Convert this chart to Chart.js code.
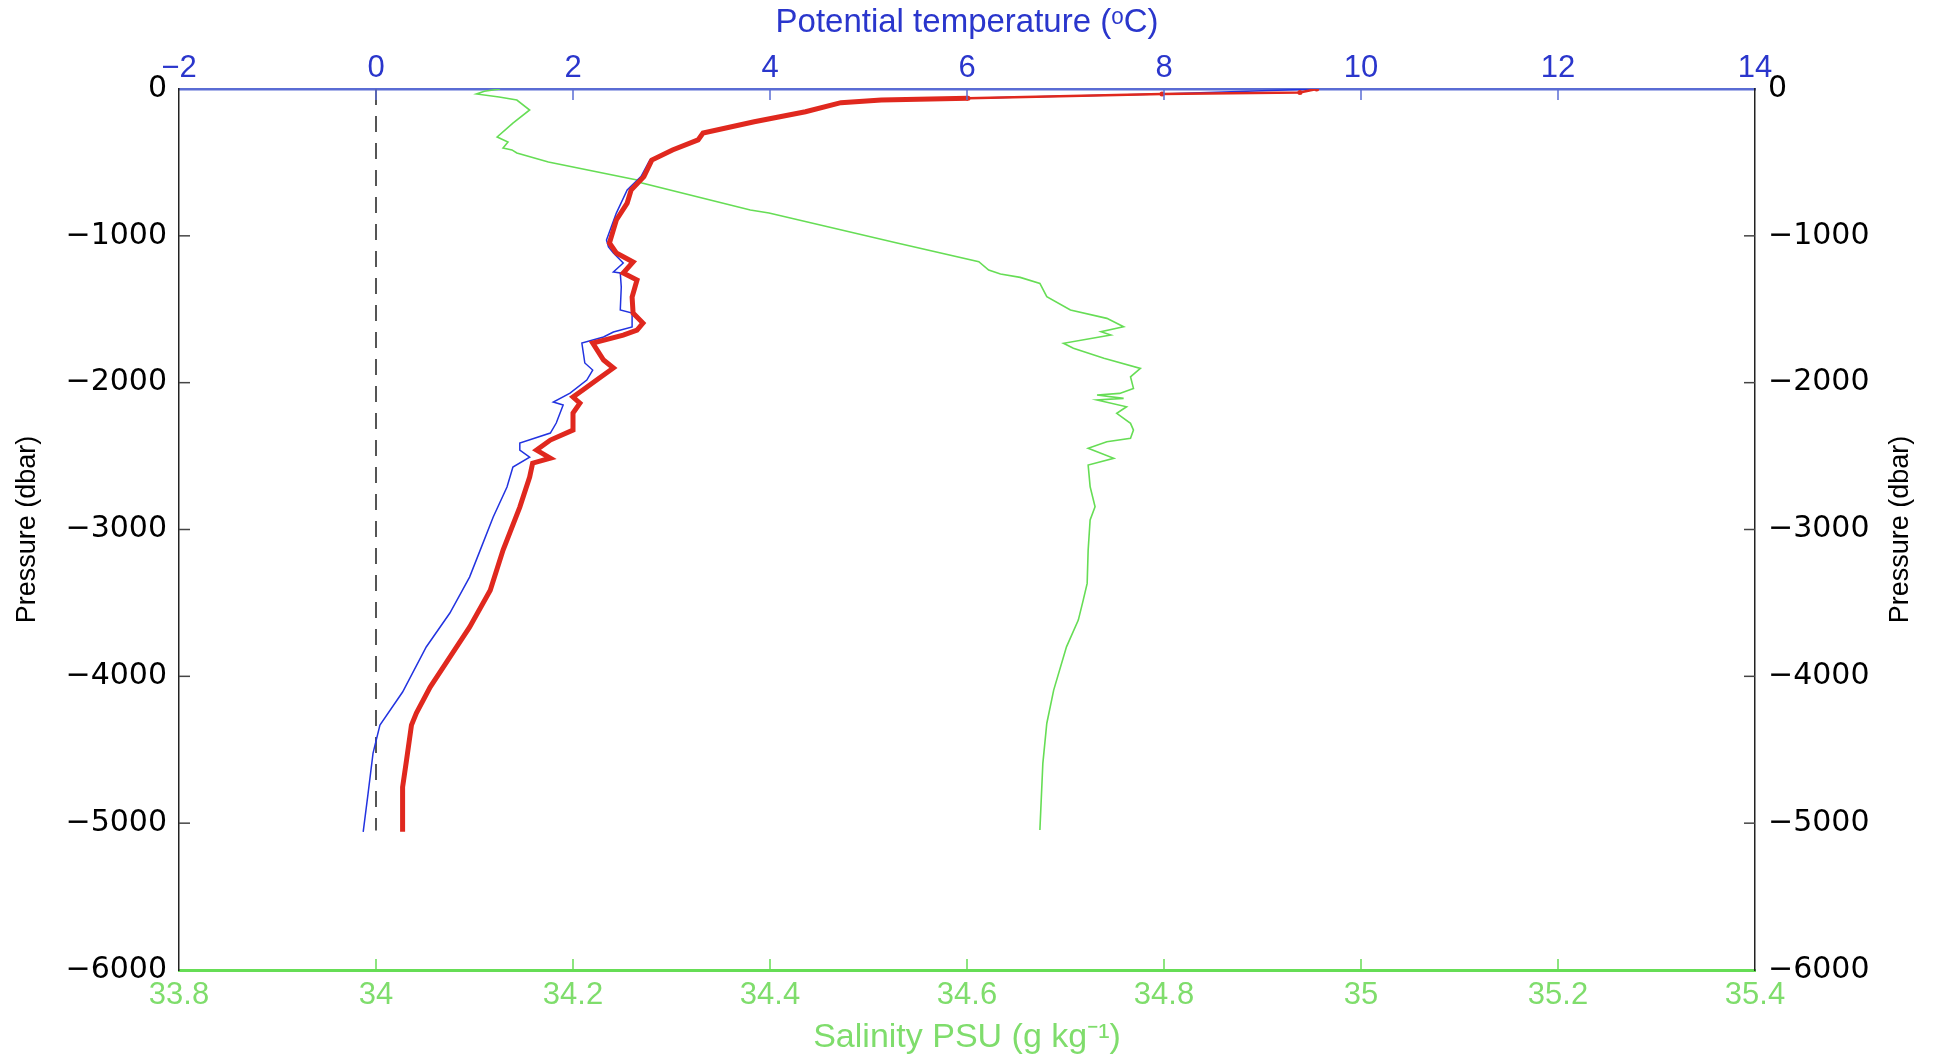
<!DOCTYPE html>
<html>
<head>
<meta charset="utf-8">
<script src="https://cdn.jsdelivr.net/npm/chart.js@4.4.0/dist/chart.umd.min.js"></script>
<style>
  html, body { margin: 0; padding: 0; background: #fff; }
  #wrap { width: 1937px; height: 1056px; position: relative; }
</style>
</head>
<body>
<div id="wrap"><canvas id="perfil"></canvas></div>
<script>
// perfil CTD: presion (dbar), temperatura (C), salinidad (PSU)
const redP = [0, -23, -34, -63, -75, -93, -155, -223, -300, -347, -415, -484, -597, -688, -777, -892, -1049, -1117, -1178, -1253, -1301, -1417, -1526, -1594, -1642, -1676, -1730, -1846, -1900, -1982, -2050, -2098, -2139, -2207, -2323, -2391, -2459, -2514, -2548, -2643, -2847, -3140, -3413, -3665, -3869, -4073, -4250, -4332, -4571, -4755, -5059];
const redT = [9.55, 9.38, 7.98, 6.01, 5.13, 4.72, 4.36, 3.84, 3.32, 3.27, 3.01, 2.80, 2.72, 2.59, 2.55, 2.44, 2.37, 2.44, 2.61, 2.51, 2.65, 2.60, 2.61, 2.71, 2.65, 2.51, 2.20, 2.31, 2.41, 2.24, 2.10, 2.00, 2.07, 2.00, 2.00, 1.77, 1.63, 1.77, 1.59, 1.56, 1.46, 1.29, 1.16, 0.95, 0.75, 0.55, 0.41, 0.36, 0.31, 0.27, 0.27];

const blueP = [0, -34, -63, -75, -93, -155, -223, -300, -347, -415, -484, -597, -688, -845, -1028, -1076, -1117, -1185, -1246, -1253, -1349, -1505, -1526, -1621, -1655, -1689, -1730, -1866, -1914, -1982, -2071, -2132, -2152, -2275, -2343, -2411, -2459, -2507, -2575, -2711, -2915, -3120, -3324, -3569, -3800, -4107, -4332, -4523, -4796, -5059];
const blueT = [9.55, 7.97, 6.00, 5.12, 4.71, 4.35, 3.83, 3.31, 3.25, 2.99, 2.78, 2.69, 2.55, 2.44, 2.34, 2.36, 2.41, 2.51, 2.41, 2.48, 2.49, 2.48, 2.60, 2.60, 2.41, 2.31, 2.09, 2.12, 2.20, 2.14, 1.97, 1.80, 1.90, 1.83, 1.77, 1.46, 1.46, 1.56, 1.39, 1.33, 1.19, 1.07, 0.95, 0.75, 0.51, 0.27, 0.04, -0.03, -0.08, -0.13];

const greenP = [0, -15, -34, -55, -75, -143, -232, -327, -361, -402, -415, -436, -497, -620, -640, -824, -845, -1049, -1176, -1233, -1260, -1283, -1324, -1414, -1505, -1562, -1619, -1653, -1676, -1732, -1766, -1834, -1903, -1960, -2039, -2073, -2084, -2107, -2118, -2164, -2209, -2277, -2323, -2379, -2402, -2447, -2515, -2561, -2708, -2845, -2935, -3140, -3367, -3481, -3617, -3799, -4094, -4321, -4593, -5047];
const greenS = [34.126, 34.110, 34.102, 34.125, 34.143, 34.156, 34.139, 34.123, 34.134, 34.129, 34.138, 34.143, 34.175, 34.265, 34.270, 34.380, 34.399, 34.529, 34.612, 34.622, 34.634, 34.654, 34.674, 34.681, 34.705, 34.742, 34.759, 34.736, 34.746, 34.698, 34.708, 34.739, 34.776, 34.766, 34.769, 34.755, 34.732, 34.759, 34.732, 34.762, 34.752, 34.766, 34.769, 34.766, 34.742, 34.723, 34.749, 34.723, 34.725, 34.730, 34.725, 34.723, 34.722, 34.718, 34.713, 34.701, 34.688, 34.681, 34.677, 34.674];

// linea de referencia en 0 C
const zeroP = [0, -5050];
const zeroT = [0, 0];

const tempTicks = [-2, 0, 2, 4, 6, 8, 10, 12, 14];
const salTicks = [33.8, 34, 34.2, 34.4, 34.6, 34.8, 35, 35.2, 35.4];
const pressTicks = [0, -1000, -2000, -3000, -4000, -5000, -6000];

const azul = '#2a36cc';
const azulEje = '#5a6cd4';
const verde = '#7fdd6c';
const verdeLinea = '#66dd55';
const rojo = '#e0281e';

const pts = (xs, ys) => xs.map((x, i) => ({ x: x, y: ys[i] }));
const menos = v => String(v).replace('-', '\u2212');
const fijar = lista => scale => { scale.ticks = lista.map(v => ({ value: v })); };

const marcas = {
  id: 'marcas',
  afterDraw(chart) {
    const { ctx, chartArea: a, scales } = chart;
    const raya = (x1, y1, x2, y2) => { ctx.beginPath(); ctx.moveTo(x1, y1); ctx.lineTo(x2, y2); ctx.stroke(); };
    ctx.save();
    ctx.lineWidth = 1.5;
    ctx.strokeStyle = azulEje;
    tempTicks.slice(1, -1).forEach(v => { const x = scales.temp.getPixelForValue(v); raya(x, a.top, x, a.top + 11); });
    ctx.strokeStyle = verdeLinea;
    salTicks.slice(1, -1).forEach(v => { const x = scales.sal.getPixelForValue(v); raya(x, a.bottom, x, a.bottom - 11); });
    ctx.strokeStyle = '#444';
    pressTicks.slice(1, -1).forEach(v => {
      const y = scales.p.getPixelForValue(v);
      raya(a.left, y, a.left + 11, y);
      raya(a.right, y, a.right - 11, y);
    });
    // titulo eje derecho, leido hacia arriba como el izquierdo
    ctx.translate(1901, (a.top + a.bottom) / 2);
    ctx.rotate(-Math.PI / 2);
    ctx.fillStyle = '#000';
    ctx.font = '27px "Liberation Sans", Arial, sans-serif';
    ctx.textAlign = 'center';
    ctx.textBaseline = 'middle';
    ctx.fillText('Pressure (dbar)', 0, 0);
    ctx.restore();
  }
};

Chart.defaults.font.family = '"Liberation Sans", Arial, sans-serif';

new Chart(document.getElementById('perfil'), {
  type: 'scatter',
  data: {
    datasets: [
      {
        data: pts(redT, redP), xAxisID: 'temp', yAxisID: 'p', showLine: true,
        borderColor: rojo, borderWidth: 5, tension: 0,
        // cerca de la superficie la curva es fina con puntos
        segment: { borderWidth: c => (c.p1.parsed.y > -70 ? 2.5 : 5) },
        pointRadius: c => (c.raw && c.raw.y > -70 ? 2.5 : 0),
        pointBackgroundColor: rojo, pointBorderWidth: 0
      },
      { data: pts(blueT, blueP), xAxisID: 'temp', yAxisID: 'p', showLine: true, borderColor: '#2233e0', borderWidth: 1.5, pointRadius: 0, tension: 0 },
      { data: pts(greenS, greenP), xAxisID: 'sal', yAxisID: 'p', showLine: true, borderColor: verdeLinea, borderWidth: 1.6, pointRadius: 0, tension: 0 },
      { data: pts(zeroT, zeroP), xAxisID: 'temp', yAxisID: 'p', showLine: true, borderColor: '#555', borderWidth: 2, borderDash: [16, 11], pointRadius: 0 }
    ]
  },
  options: {
    responsive: true,
    maintainAspectRatio: false,
    devicePixelRatio: 1,
    animation: false,
    layout: { padding: 0 },
    plugins: { legend: { display: false }, tooltip: { enabled: false } },
    scales: {
      temp: {
        type: 'linear', position: 'top', min: -2, max: 14,
        afterBuildTicks: fijar(tempTicks),
        afterFit: s => { s.height = 89; },
        grid: { display: false, drawTicks: false },
        border: { display: true, color: azulEje, width: 2.5 },
        ticks: { color: azul, padding: 2, maxRotation: 0, font: { size: 31 }, callback: v => menos(v) },
        title: { display: true, text: 'Potential temperature (\u1D52C)', color: azul, font: { size: 33, lineHeight: 1 }, padding: { top: 6 } }
      },
      sal: {
        type: 'linear', position: 'bottom', min: 33.8, max: 35.4,
        afterBuildTicks: fijar(salTicks),
        afterFit: s => { s.height = 86; },
        grid: { display: false, drawTicks: false },
        border: { display: true, color: verdeLinea, width: 3 },
        ticks: { color: verde, padding: 7, maxRotation: 0, font: { size: 31 }, callback: v => String(+v.toFixed(1)) },
        title: { display: true, text: 'Salinity PSU (g kg\u207B\u00B9)', color: verde, font: { size: 34, lineHeight: 1 }, padding: { bottom: 1 } }
      },
      p: {
        type: 'linear', position: 'left', min: -6000, max: 0,
        afterBuildTicks: fijar(pressTicks),
        afterFit: s => { s.width = 179; },
        grid: { display: false, drawTicks: false },
        border: { display: true, color: '#222', width: 1.5 },
        ticks: { color: '#000', padding: 12, font: { family: '"DejaVu Sans", sans-serif', size: 30 }, callback: v => menos(v) },
        title: { display: true, text: 'Pressure (dbar)', color: '#000', font: { size: 27, lineHeight: 1 }, padding: { top: 14 } }
      },
      p2: {
        type: 'linear', position: 'right', min: -6000, max: 0,
        afterBuildTicks: fijar(pressTicks),
        afterFit: s => { s.width = 182; },
        grid: { display: false, drawTicks: false },
        border: { display: true, color: '#222', width: 1.5 },
        ticks: { color: '#000', padding: 13, font: { family: '"DejaVu Sans", sans-serif', size: 30 }, callback: v => menos(v) }
      }
    }
  },
  plugins: [marcas]
});
</script>
</body>
</html>
